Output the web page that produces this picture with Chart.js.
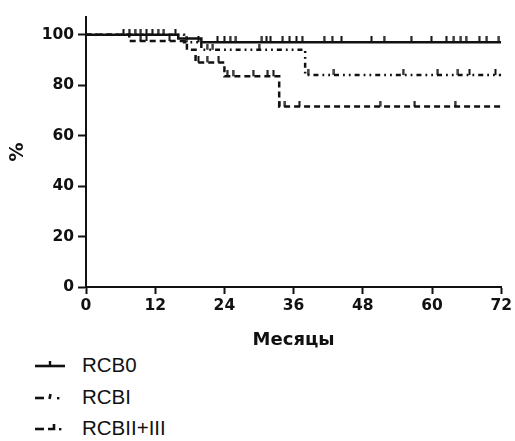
<!DOCTYPE html>
<html>
<head>
<meta charset="utf-8">
<script src="https://cdn.jsdelivr.net/npm/chart.js@4.4.1/dist/chart.umd.min.js"></script>
<style>
  html, body { margin: 0; padding: 0; background: #ffffff; }
  #wrap { position: relative; width: 515px; height: 441px; }
  #c { position: absolute; left: 0; top: 0; }
  .leg { position: absolute; left: 30px; width: 300px; font-family: "Liberation Sans", Arial, sans-serif; font-size: 20.5px; color: #111; height: 24px; line-height: 24px; }
  .leg svg { position: absolute; left: 0; top: 0; }
  .leg span { position: absolute; left: 52px; top: 0; white-space: nowrap; }
</style>
</head>
<body>
<div id="wrap">
  <canvas id="c" width="515" height="352"></canvas>
  <div class="leg" style="top:353px"><svg width="40" height="24"><line x1="5" y1="13" x2="35" y2="13" stroke="#111" stroke-width="2.6"/><line x1="20" y1="8" x2="20" y2="13" stroke="#111" stroke-width="2.4"/></svg><span>RCB0</span></div>
  <div class="leg" style="top:385px"><svg width="40" height="24"><line x1="5" y1="13" x2="14" y2="13" stroke="#111" stroke-width="2.6"/><line x1="20.5" y1="9" x2="19.5" y2="14" stroke="#111" stroke-width="2.6"/><rect x="27" y="12" width="2.4" height="2.4" fill="#111"/></svg><span>RCBI</span></div>
  <div class="leg" style="top:416px"><svg width="40" height="24"><line x1="5" y1="13" x2="14" y2="13" stroke="#111" stroke-width="2.6"/><polyline points="18,13 24,13 24,8" fill="none" stroke="#111" stroke-width="2.6"/><rect x="29" y="12" width="2.4" height="2.4" fill="#111"/></svg><span>RCBII+III</span></div>
</div>
<script>
// ---- data ----
const xTicks = [0, 12, 24, 36, 48, 60, 72];
const yTicks = [0, 20, 40, 60, 80, 100];

const rcb0Times = [0, 16, 20, 72];
const rcb0Surv  = [100, 98.5, 97, 97];
const rcb0Censor = [6.5, 7.5, 8.5, 9.5, 10.5, 11.5, 12.5, 13.5, 22.8, 24, 25, 26, 30.5, 31.3, 32, 34.1, 35.3, 36.5, 37.5, 41.3, 42.7, 44.3, 49.5, 51.7, 56.4, 59.9, 62.5, 63.8, 65, 65.9, 68.2, 69.5, 71.6];

const rcbITimes = [0, 17, 20, 38, 72];
const rcbISurv  = [100, 97, 94, 84, 84];
const rcbICensor = [15.5, 17.5, 19.5, 21, 22, 30, 38.5, 43, 55, 61, 64.5, 66.5, 71];

const rcb23Times = [0, 7.5, 17.5, 19, 24, 33.5, 72];
const rcb23Surv  = [100, 97.5, 94, 89, 83.5, 71.5, 71.5];
const rcb23Censor = [9.5, 10.5, 14.5, 19.5, 21, 23, 24.5, 25.5, 29, 31.5, 32.5, 33.5, 34.5, 37, 51, 57, 64];

// ---- helpers ----
function stepPoints(times, surv) {
  return times.map((t, i) => ({ x: t, y: surv[i] }));
}
function survAt(times, surv, t) {
  let v = surv[0];
  for (let i = 0; i < times.length; i++) { if (times[i] <= t) v = surv[i]; }
  return v;
}
function censorPoints(times, surv, cens) {
  return cens.map(t => ({ x: t, y: survAt(times, surv, t) }));
}
// tick glyph: short vertical stroke rising above the curve
function tickGlyph(h) {
  const cv = document.createElement('canvas');
  cv.width = 3; cv.height = h * 2;
  const g = cv.getContext('2d');
  g.fillStyle = '#111';
  g.fillRect(0.5, 0, 2, h);
  return cv;
}
const tick = tickGlyph(6);

const lineCommon = { borderColor: '#111', borderWidth: 2.5, pointRadius: 0, stepped: 'before', fill: false, showLine: true };
const cenCommon = { showLine: false, pointStyle: tick, pointRadius: 3, borderColor: '#111', backgroundColor: '#111' };
const axisFont = { family: 'DejaVu Sans', weight: 'bold', size: 15.5 };

const chart = new Chart(document.getElementById('c'), {
  type: 'scatter',
  data: {
    datasets: [
      Object.assign({ label: 'RCB0', data: stepPoints(rcb0Times, rcb0Surv) }, lineCommon),
      Object.assign({ label: 'RCBI', data: stepPoints(rcbITimes, rcbISurv), borderDash: [5, 4, 1.8, 4, 1.8, 4] }, lineCommon),
      Object.assign({ label: 'RCBII+III', data: stepPoints(rcb23Times, rcb23Surv), borderDash: [6, 4] }, lineCommon),
      Object.assign({ label: 'c0', data: censorPoints(rcb0Times, rcb0Surv, rcb0Censor) }, cenCommon),
      Object.assign({ label: 'c1', data: censorPoints(rcbITimes, rcbISurv, rcbICensor) }, cenCommon),
      Object.assign({ label: 'c2', data: censorPoints(rcb23Times, rcb23Surv, rcb23Censor) }, cenCommon)
    ]
  },
  options: {
    responsive: false,
    devicePixelRatio: 1,
    animation: false,
    layout: { padding: { top: 17, right: 13, left: 0, bottom: 0 } },
    plugins: { legend: { display: false }, tooltip: { enabled: false } },
    scales: {
      x: {
        type: 'linear', min: 0, max: 72,
        afterBuildTicks: s => { s.ticks = xTicks.map(v => ({ value: v })); },
        afterFit: s => { s.height = 65; },
        grid: { drawOnChartArea: false, drawTicks: true, tickLength: 7, tickWidth: 2, color: '#111' },
        border: { display: true, color: '#111', width: 2 },
        ticks: { color: '#111', padding: 3, maxRotation: 0, font: axisFont },
        title: { display: true, text: 'Месяцы', color: '#111', padding: { top: 2, bottom: 1 }, font: { family: 'DejaVu Sans', weight: 'bold', size: 18 } }
      },
      y: {
        type: 'linear', min: 0, max: 107,
        afterBuildTicks: s => { s.ticks = yTicks.map(v => ({ value: v })); },
        afterFit: s => { s.width = 86; },
        grid: { drawOnChartArea: false, drawTicks: true, tickLength: 8, tickWidth: 2, color: '#111' },
        border: { display: true, color: '#111', width: 2 },
        ticks: { color: '#111', padding: 4, font: axisFont },
        title: { display: true, text: '%', color: '#111', padding: { top: 7, bottom: 0 }, font: { family: 'DejaVu Sans', weight: 'bold', size: 19 } }
      }
    }
  }
});
</script>
</body>
</html>
